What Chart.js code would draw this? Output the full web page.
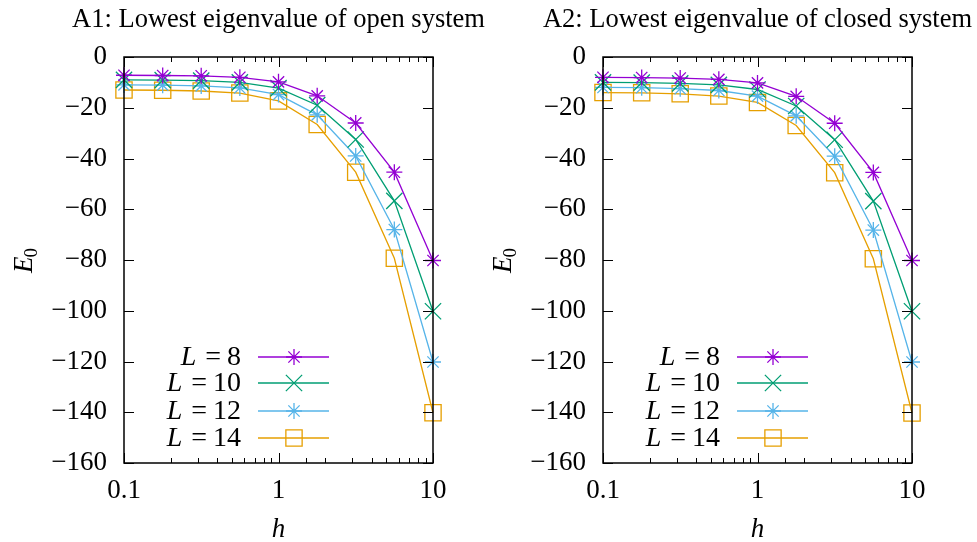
<!DOCTYPE html>
<html>
<head>
<meta charset="utf-8">
<script src="https://cdn.jsdelivr.net/npm/chart.js@4.4.1/dist/chart.umd.min.js"></script>
<style>
  html, body { margin: 0; padding: 0; background: #fff; }
  #wrap { position: relative; width: 977px; height: 542px; }
  canvas { position: absolute; top: 0; }
</style>
</head>
<body>
<div id="wrap">
  <canvas id="c1" width="488" height="542" style="left:0"></canvas>
  <canvas id="c2" width="489" height="542" style="left:488px"></canvas>
</div>
<script>
// field strengths h (log spaced, 4 per decade)
const hValues = [0.1, 0.178, 0.316, 0.562, 1, 1.78, 3.16, 5.62, 10];
const sizes = [8, 10, 12, 14];
const yTicks = [0, -20, -40, -60, -80, -100, -120, -140, -160];
const xTickLabels = [0.1, 1, 10];

// A1: open system
const openL8 = [-7.2, -7.3, -7.4, -8.0, -9.8, -15.3, -26.0, -45.4, -80.2];
const openL10 = [-9.0, -9.1, -9.3, -10.0, -12.3, -19.0, -32.5, -56.7, -100.2];
const openL12 = [-11.0, -11.1, -11.4, -12.2, -14.8, -22.8, -39.0, -68.0, -120.2];
const openL14 = [-13.0, -13.1, -13.4, -14.2, -17.3, -26.6, -45.4, -79.3, -140.2];

// A2: closed system
const closedL8 = [-8.0, -8.1, -8.3, -8.8, -10.2, -15.5, -26.1, -45.5, -80.2];
const closedL10 = [-10.0, -10.1, -10.4, -11.0, -12.8, -19.3, -32.6, -56.8, -100.2];
const closedL12 = [-12.0, -12.1, -12.5, -13.2, -15.4, -23.2, -39.1, -68.2, -120.2];
const closedL14 = [-14.0, -14.1, -14.5, -15.4, -17.9, -27.0, -45.6, -79.5, -140.3];

const colors = ["#9400d3", "#009e73", "#56b4e9", "#e69f00"];
const markers = [
  { pointStyle: "star", radius: 8 },
  { pointStyle: "crossRot", radius: 11.5 },
  { pointStyle: "star", radius: 8 },
  { pointStyle: "rect", radius: 11.5 },
];

const SERIF = "'Liberation Serif', 'DejaVu Serif', serif";

function makeDatasets(series) {
  return series.map((vals, i) => ({
    label: "L = " + sizes[i],
    data: vals.map((v, j) => ({ x: hValues[j], y: v })),
    borderColor: colors[i],
    backgroundColor: "rgba(0,0,0,0)",
    borderWidth: 1.3,
    pointStyle: markers[i].pointStyle,
    pointRadius: markers[i].radius,
    pointBorderWidth: 1.3,
    pointBorderColor: colors[i],
    pointBackgroundColor: "rgba(0,0,0,0)",
    tension: 0,
    clip: false,
  }));
}

// frame, inward ticks, titles and legend drawn on top of the chart
const decorations = {
  id: "decorations",
  afterDraw(chart, args, opts) {
    const { ctx, chartArea: a } = chart;
    const xs = chart.scales.x;
    const ys = chart.scales.y;
    ctx.save();
    ctx.strokeStyle = "#000";
    ctx.lineWidth = 1;

    // y ticks (both sides)
    ys.ticks.forEach((t) => {
      const y = Math.round(ys.getPixelForValue(t.value)) + 0.5;
      ctx.beginPath();
      ctx.moveTo(a.left, y); ctx.lineTo(a.left + 10, y);
      ctx.moveTo(a.right, y); ctx.lineTo(a.right - 10, y);
      ctx.stroke();
    });

    // x ticks, major at decades, minor between
    xs.ticks.forEach((t) => {
      const lg = Math.log10(t.value);
      const major = Math.abs(lg - Math.round(lg)) < 1e-6;
      const len = major ? 10 : 5;
      const x = Math.round(xs.getPixelForValue(t.value)) + 0.5;
      ctx.beginPath();
      ctx.moveTo(x, a.bottom); ctx.lineTo(x, a.bottom - len);
      ctx.moveTo(x, a.top); ctx.lineTo(x, a.top + len);
      ctx.stroke();
    });

    // frame
    ctx.lineWidth = 1.5;
    ctx.strokeRect(a.left, a.top, a.right - a.left, a.bottom - a.top);

    // title
    ctx.fillStyle = "#000";
    ctx.font = "26.5px " + SERIF;
    ctx.textAlign = "center";
    ctx.textBaseline = "alphabetic";
    ctx.fillText(opts.title, (a.left + a.right) / 2, 27);

    // x axis title
    ctx.font = "italic 27px " + SERIF;
    ctx.fillText("h", (a.left + a.right) / 2, 537);

    // y axis title E_0
    ctx.save();
    ctx.translate(opts.yTitleX, (a.top + a.bottom) / 2);
    ctx.rotate(-Math.PI / 2);
    ctx.font = "italic 27px " + SERIF;
    ctx.textAlign = "left";
    const wE = ctx.measureText("E").width;
    ctx.fillText("E", -13, 9);
    ctx.font = "19px " + SERIF;
    ctx.fillText("0", -13 + wE - 1, 14);
    ctx.restore();

    // legend inside the plot
    const rows = [106, 80, 52, 25];
    chart.data.datasets.forEach((ds, i) => {
      const y = a.bottom - rows[i];
      ctx.fillStyle = "#000";
      ctx.textAlign = "right";
      ctx.textBaseline = "middle";
      const tx = a.left + 117;
      ctx.font = "28px " + SERIF;
      const num = String(sizes[i]);
      ctx.fillText(num, tx, y + 1);
      const eqRight = tx - ctx.measureText(num).width - 6;
      ctx.fillText("=", eqRight, y + 1);
      const lRight = eqRight - ctx.measureText("=").width - 9;
      ctx.font = "italic 28px " + SERIF;
      ctx.fillText("L", lRight, y + 1);

      ctx.strokeStyle = ds.borderColor;
      ctx.fillStyle = "rgba(0,0,0,0)";
      ctx.lineWidth = 1.3;
      ctx.beginPath();
      ctx.moveTo(a.left + 134, y);
      ctx.lineTo(a.left + 205, y);
      ctx.stroke();
      Chart.helpers.drawPoint(ctx, {
        pointStyle: ds.pointStyle,
        radius: ds.pointRadius,
        rotation: 0,
        borderWidth: 1.3,
      }, a.left + 170, y);
    });
    ctx.restore();
  },
};

function makeChart(canvasId, title, series, leftWidth, rightPad, yTitleX) {
  return new Chart(document.getElementById(canvasId), {
    type: "line",
    data: { datasets: makeDatasets(series) },
    options: {
      responsive: false,
      animation: false,
      devicePixelRatio: 1,
      layout: { padding: { top: 57, right: rightPad, left: 0, bottom: 0 } },
      scales: {
        x: {
          type: "logarithmic",
          min: 0.1,
          max: 10,
          grid: { display: false, drawTicks: false },
          border: { display: false },
          afterFit: (s) => { s.height = 79; },
          ticks: {
            autoSkip: false,
            maxRotation: 0,
            padding: 12,
            color: "#000",
            font: { family: SERIF, size: 27 },
            callback: (v) => (xTickLabels.some((t) => Math.abs(t - v) < 1e-9) ? String(v) : ""),
          },
        },
        y: {
          min: -160,
          max: 0,
          grid: { display: false, drawTicks: false },
          border: { display: false },
          afterFit: (s) => { s.width = leftWidth; },
          afterBuildTicks: (s) => { s.ticks = yTicks.map((v) => ({ value: v })); },
          ticks: {
            padding: 17,
            color: "#000",
            font: { family: SERIF, size: 27 },
            callback: (v) => (v < 0 ? "\u2212" + Math.abs(v) : String(v)),
          },
        },
      },
      plugins: {
        legend: { display: false },
        tooltip: { enabled: false },
        decorations: { title: title, yTitleX: yTitleX },
      },
    },
    plugins: [decorations],
  });
}

makeChart("c1", "A1: Lowest eigenvalue of open system",
  [openL8, openL10, openL12, openL14], 124, 55, 23);
makeChart("c2", "A2: Lowest eigenvalue of closed system",
  [closedL8, closedL10, closedL12, closedL14], 115, 65, 14);
</script>
</body>
</html>
